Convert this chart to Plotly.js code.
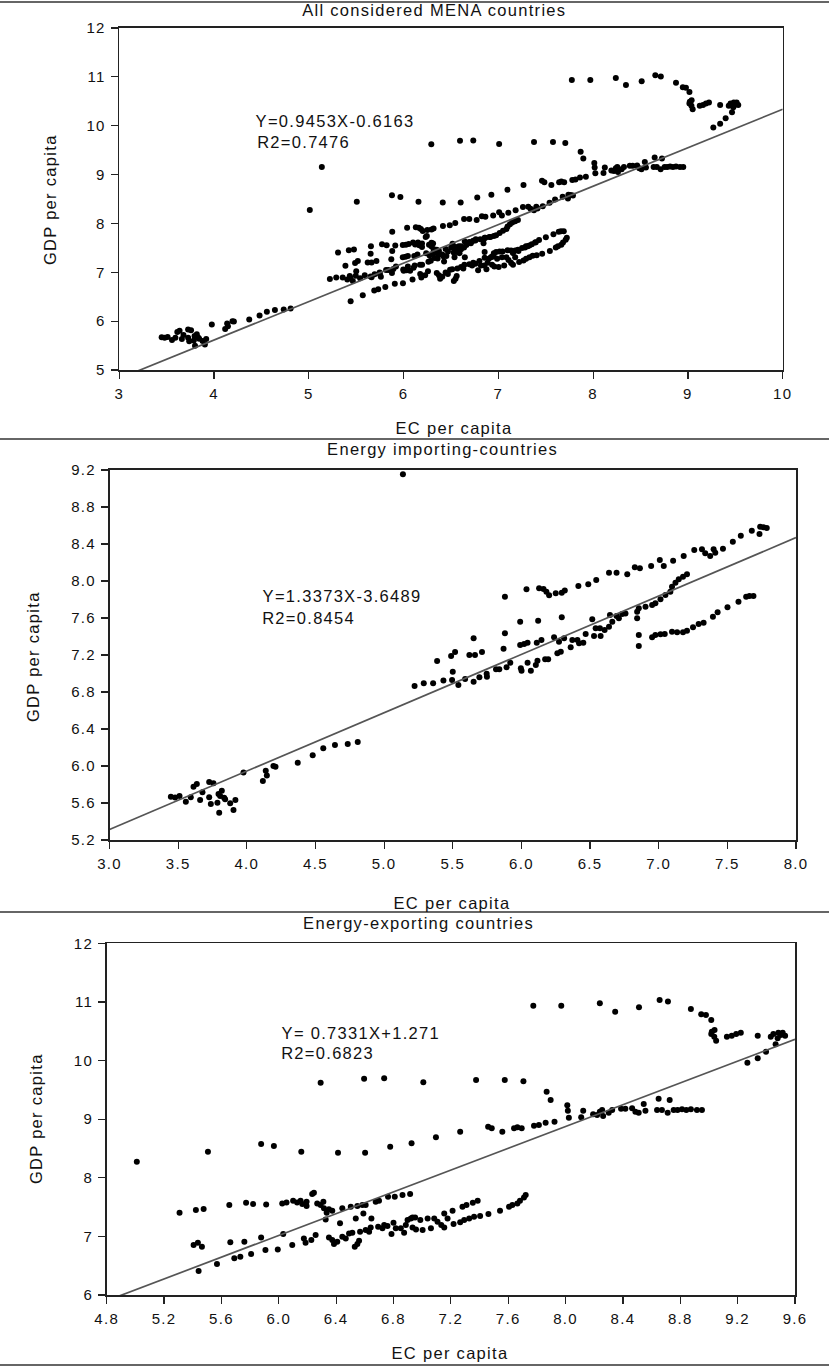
<!DOCTYPE html>
<html>
<head>
<meta charset="utf-8">
<script src="https://cdn.plot.ly/plotly-3.0.1.min.js"></script>
<style>
  html, body { margin: 0; padding: 0; background: #fff; }
  #chart { width: 829px; height: 1367px; }
  #chart text { letter-spacing: 1.3px; }
</style>
</head>
<body>
<div id="chart"></div>
<script>
var importEC = [3.447, 3.478, 3.51, 3.556, 3.592, 3.612, 3.636, 3.66, 3.677, 3.726, 3.757, 3.726, 3.738, 3.786, 3.794, 3.818, 3.806, 3.835, 3.842, 3.799, 3.879, 3.903, 3.917, 3.976, 4.117, 4.138, 4.146, 4.194, 4.209, 4.371, 4.48, 4.557, 4.642, 4.735, 4.808, 5.137,
  5.222, 5.289, 5.357, 5.432, 5.495, 5.541, 5.59, 5.652, 5.694, 5.749, 5.747, 5.815, 5.839, 5.892, 5.919, 5.996, 6.001, 6.045, 6.069, 6.105, 6.117, 6.173, 6.195, 6.262, 6.287, 6.359, 6.42, 6.451, 6.529, 6.577, 6.606, 6.638, 6.662, 6.71, 6.758, 6.843, 6.843, 6.855, 6.904, 6.952, 6.976, 7.013, 7.049, 7.085, 7.097, 7.122, 7.146, 7.177, 7.206,
  5.5, 5.488, 5.517, 5.386, 5.621, 5.662, 5.713, 5.652, 5.87, 5.88, 5.991, 5.991, 6.02, 6.045, 6.112, 6.122, 6.146, 6.238, 6.274, 6.311, 6.294, 6.371, 6.408, 6.468, 6.516, 6.541, 6.572, 6.645, 6.693, 6.734,
  6.855, 6.855, 6.952, 6.976, 7.013, 7.044, 7.097, 7.134, 7.177, 7.206, 7.25, 7.291, 7.327, 7.395, 7.429, 7.501, 7.581, 7.637, 7.661, 7.69,
  5.88, 6.037, 6.129, 6.161, 6.182, 6.202, 6.25, 6.294, 6.316, 6.415, 6.487, 6.545, 6.638, 6.693, 6.771, 6.826, 6.863, 6.945, 7.008, 7.037, 7.105, 7.182, 7.259, 7.315, 7.339, 7.375, 7.4, 7.412, 7.468, 7.54, 7.598, 7.678, 7.734, 7.739, 7.763, 7.787];
var importGDP = [5.668, 5.66, 5.676, 5.614, 5.661, 5.777, 5.805, 5.632, 5.715, 5.827, 5.813, 5.661, 5.589, 5.604, 5.697, 5.733, 5.676, 5.658, 5.64, 5.495, 5.596, 5.524, 5.632, 5.931, 5.838, 5.95, 5.896, 6.0, 5.993, 6.036, 6.116, 6.191, 6.227, 6.238, 6.259, 9.153,
  6.865, 6.894, 6.894, 6.923, 6.93, 6.876, 6.94, 6.912, 6.959, 6.966, 6.997, 7.045, 7.045, 7.067, 7.117, 7.056, 7.031, 7.117, 7.031, 7.092, 7.139, 7.153, 7.153, 7.218, 7.236, 7.283, 7.326, 7.333, 7.405, 7.405, 7.47, 7.506, 7.56, 7.596, 7.65, 7.596, 7.668, 7.705, 7.722, 7.741, 7.759, 7.802, 7.849, 7.885, 7.939, 7.982, 8.018, 8.047, 8.072,
  7.02, 7.189, 7.232, 7.135, 7.2, 7.2, 7.232, 7.38, 7.268, 7.434, 7.56, 7.308, 7.319, 7.333, 7.333, 7.571, 7.362, 7.391, 7.344, 7.38, 7.607, 7.362, 7.362, 7.427, 7.586, 7.488, 7.488, 7.632, 7.621, 7.643,
  7.416, 7.297, 7.391, 7.416, 7.423, 7.427, 7.452, 7.445, 7.445, 7.463, 7.499, 7.535, 7.549, 7.614, 7.661, 7.715, 7.777, 7.831, 7.838, 7.838,
  7.831, 7.91, 7.921, 7.914, 7.885, 7.845, 7.867, 7.874, 7.896, 7.946, 7.964, 8.011, 8.09, 8.09, 8.072, 8.148, 8.137, 8.162, 8.227, 8.162, 8.22, 8.27, 8.335, 8.342, 8.299, 8.27, 8.342, 8.306, 8.35, 8.425, 8.49, 8.544, 8.508, 8.587, 8.58, 8.573];

var exportEC = [5.01, 5.506, 5.877, 5.966, 6.157, 6.413, 6.602, 6.777, 6.926, 6.292, 6.595, 6.735, 7.008, 7.376, 7.576, 7.706, 7.868, 7.896, 8.012, 8.016, 8.023, 8.109, 8.123, 8.192, 8.22, 8.239, 8.255, 8.262, 8.301, 8.325, 8.387, 8.417, 8.464, 8.487, 8.51, 8.545, 8.557, 8.649, 8.638, 8.672, 8.712, 8.726, 8.754, 8.781, 8.812, 8.842, 8.874, 8.916, 8.951,
  7.775, 7.97, 8.239, 8.346, 8.512, 8.656, 8.714, 8.874, 8.946, 8.979, 9.016, 9.02, 9.039, 9.016, 9.037, 9.05, 9.125, 9.159, 9.19, 9.222, 9.34, 9.431, 9.449, 9.484, 9.5, 9.514, 9.531, 9.479, 9.465, 9.398, 9.34, 9.268,
  7.096, 7.265, 7.46, 7.485, 7.559, 7.641, 7.664, 7.694, 7.78, 7.814, 7.861, 7.923,
  7.722, 7.71, 7.682, 7.664, 7.629, 7.606, 7.543, 7.462, 7.404, 7.362, 7.328, 7.293, 7.265, 7.219, 7.177, 7.154, 7.133, 7.107, 7.084, 7.061, 7.038, 7.003, 6.987, 6.957, 6.933, 6.933, 7.154, 7.212, 7.281, 7.309, 7.353, 7.387,
  5.308, 5.422, 5.476, 5.655, 5.772, 5.821, 5.912, 6.024, 6.054, 6.1, 6.128, 6.152, 6.164, 6.194, 6.194, 6.233, 6.245, 6.268, 6.292, 6.311, 6.315, 6.334, 6.35, 6.373, 6.443, 6.502, 6.548, 6.583, 6.606, 6.676, 6.699, 6.762, 6.809, 6.863, 6.916,
  5.406, 5.436, 5.464, 5.441, 5.569, 5.662, 5.69, 5.732, 5.76, 5.807, 5.877, 5.907, 5.993, 6.031, 6.094, 6.175, 6.187, 6.227, 6.257, 6.327, 6.35, 6.373, 6.385, 6.408, 6.427, 6.443, 6.467, 6.49, 6.513, 6.53, 6.548, 6.537, 6.56, 6.567, 6.59, 6.606, 6.63, 6.641, 6.646, 6.693, 6.723, 6.735, 6.758, 6.786, 6.8, 6.816, 6.851, 6.874, 6.886, 6.898, 6.921, 6.951];
var exportGDP = [8.274, 8.445, 8.576, 8.541, 8.445, 8.428, 8.428, 8.53, 8.587, 9.622, 9.69, 9.696, 9.628, 9.668, 9.668, 9.645, 9.469, 9.327, 9.236, 9.144, 9.025, 9.031, 9.144, 9.082, 9.071, 9.127, 9.156, 9.053, 9.11, 9.156, 9.179, 9.179, 9.184, 9.127, 9.11, 9.258, 9.144, 9.349, 9.156, 9.156, 9.11, 9.327, 9.156, 9.156, 9.167, 9.156, 9.167, 9.156, 9.156,
  10.936, 10.936, 10.976, 10.834, 10.908, 11.033, 11.005, 10.879, 10.788, 10.777, 10.692, 10.493, 10.521, 10.453, 10.407, 10.339, 10.407, 10.424, 10.453, 10.476, 10.424, 10.407, 10.453, 10.476, 10.436, 10.476, 10.424, 10.379, 10.276, 10.151, 10.038, 9.964,
  8.69, 8.786, 8.871, 8.843, 8.786, 8.843, 8.86, 8.843, 8.889, 8.9, 8.94, 8.957,
  7.705, 7.665, 7.609, 7.563, 7.535, 7.506, 7.438, 7.381, 7.347, 7.336, 7.307, 7.279, 7.239, 7.21, 7.307, 7.153, 7.193, 7.25, 7.307, 7.137, 7.307, 7.108, 7.279, 7.119, 7.153, 7.324, 7.392, 7.438, 7.506, 7.535, 7.574, 7.609,
  7.404, 7.449, 7.466, 7.535, 7.574, 7.552, 7.546, 7.563, 7.58, 7.609, 7.58, 7.609, 7.552, 7.518, 7.591, 7.722, 7.745, 7.563, 7.535, 7.591, 7.478, 7.404, 7.461, 7.438, 7.478, 7.506, 7.518, 7.535, 7.535, 7.591, 7.609, 7.677, 7.677, 7.705, 7.722,
  6.852, 6.892, 6.824, 6.408, 6.528, 6.898, 6.625, 6.653, 6.909, 6.699, 6.983, 6.767, 6.778, 7.04, 6.852, 6.966, 6.892, 6.937, 7.023, 7.29, 6.983, 6.937, 6.869, 6.909, 7.222, 6.994, 6.966, 7.051, 7.063, 6.824, 6.869, 7.307, 6.926, 7.08, 7.392, 7.108, 7.08, 7.153, 7.307, 7.165, 7.137, 7.193, 7.176, 7.04, 7.233, 7.137, 7.137, 7.063, 7.193, 7.279, 7.307, 7.324];

// panel texts and the drawn fit lines (slope / intercept as they appear on the plot)
var panelTitles = ['All considered MENA countries', 'Energy importing-countries', 'Energy-exporting countries'];
var eqLabels = ['Y=0.9453X-0.6163', 'Y=1.3373X-3.6489', 'Y= 0.7331X+1.271'];
var r2Labels = ['R2=0.7476', 'R2=0.8454', 'R2=0.6823'];
var fitSlope = [0.787, 0.631, 0.929];
var fitIntercept = [2.466, 3.421, 1.443];

var W = 829, H = 1367;
function px(x) { return x / W }
function py(y) { return 1 - y / H }

var xRanges = [[3, 10], [3, 8], [4.8, 9.6]];
var yRanges = [[5, 12], [5.2, 9.2], [6, 12]];

// panel 1 shows every country together
var allEC = importEC.concat(exportEC);
var allGDP = importGDP.concat(exportGDP);
var sets = [[allEC, allGDP], [importEC, importGDP], [exportEC, exportGDP]];

var data = [];
sets.forEach(function (s, i) {
    var ax = i == 0 ? '' : String(i + 1);
    data.push({
        x: s[0], y: s[1],
        xaxis: 'x' + ax, yaxis: 'y' + ax,
        mode: 'markers', type: 'scatter',
        marker: { size: 6, color: '#000' },
        hoverinfo: 'skip'
    });
    var xr = xRanges[i];
    data.push({
        x: xr,
        y: xr.map(function (v) { return fitSlope[i] * v + fitIntercept[i] }),
        xaxis: 'x' + ax, yaxis: 'y' + ax,
        mode: 'lines', type: 'scatter',
        line: { color: '#555', width: 1.7 },
        hoverinfo: 'skip'
    });
});

var font = { family: 'Liberation Sans, Arial, sans-serif', size: 16.5, color: '#111' };

function xax(dom, range, dtick, fmt, anchor) {
    return {
        domain: dom, range: range, dtick: dtick, tick0: range[0], tickformat: fmt, anchor: anchor,
        showline: true, mirror: true, linecolor: '#222', linewidth: 1.6,
        ticks: 'outside', ticklen: 7, tickwidth: 1.2, tickcolor: '#222',
        showgrid: false, zeroline: false, ticklabelstandoff: 2,
        tickfont: { family: font.family, size: 15, color: '#111' }
    };
}

var layout = {
    width: W, height: H,
    margin: { l: 0, r: 0, t: 0, b: 0 },
    paper_bgcolor: '#fff', plot_bgcolor: '#fff',
    showlegend: false,
    font: font,
    xaxis: xax([px(119.3), px(782.7)], xRanges[0], 1, '', 'y'),
    yaxis: xax([py(370), py(28)], yRanges[0], 1, '', 'x'),
    xaxis2: xax([px(109.5), px(796)], xRanges[1], 0.5, '.1f', 'y2'),
    yaxis2: xax([py(840), py(470)], yRanges[1], 0.4, '.1f', 'x2'),
    xaxis3: xax([px(106.7), px(795)], xRanges[2], 0.4, '.1f', 'y3'),
    yaxis3: xax([py(1295), py(943.3)], yRanges[2], 1, '', 'x3'),
    shapes: [2, 439, 912, 1365].map(function (y) {
        return { type: 'line', xref: 'paper', yref: 'paper', x0: 0, x1: 1, y0: py(y), y1: py(y),
                 line: { color: '#333', width: 1.6 } };
    }),
    annotations: []
};

var titlePos = [[434, 10], [442, 449], [418, 923]];
var xTitlePos = [[454, 428], [453, 903], [451, 1353]];
var yTitlePos = [[50, 200], [33, 657], [36, 1119]];
// centres of the equation and R2 lines, in data units of each panel
var eqPos = [[5.281, 10.098], [4.691, 7.838], [6.571, 10.464]];
var r2Pos = [[4.948, 9.669], [4.452, 7.597], [6.342, 10.123]];

for (var i = 0; i < 3; i++) {
    var ax = i == 0 ? '' : String(i + 1);
    layout.annotations.push({ text: panelTitles[i], xref: 'paper', yref: 'paper',
        x: px(titlePos[i][0]), y: py(titlePos[i][1]), xanchor: 'center', yanchor: 'middle', showarrow: false });
    layout.annotations.push({ text: 'EC per capita', xref: 'paper', yref: 'paper',
        x: px(xTitlePos[i][0]), y: py(xTitlePos[i][1]), xanchor: 'center', yanchor: 'middle', showarrow: false });
    layout.annotations.push({ text: 'GDP per capita', xref: 'paper', yref: 'paper', textangle: -90,
        x: px(yTitlePos[i][0]), y: py(yTitlePos[i][1]), xanchor: 'center', yanchor: 'middle', showarrow: false });
    layout.annotations.push({ text: eqLabels[i], xref: 'x' + ax, yref: 'y' + ax,
        x: eqPos[i][0], y: eqPos[i][1], xanchor: 'center', yanchor: 'middle', showarrow: false });
    layout.annotations.push({ text: r2Labels[i], xref: 'x' + ax, yref: 'y' + ax,
        x: r2Pos[i][0], y: r2Pos[i][1], xanchor: 'center', yanchor: 'middle', showarrow: false });
}

Plotly.newPlot('chart', data, layout, { displayModeBar: false, staticPlot: true });
</script>
</body>
</html>
